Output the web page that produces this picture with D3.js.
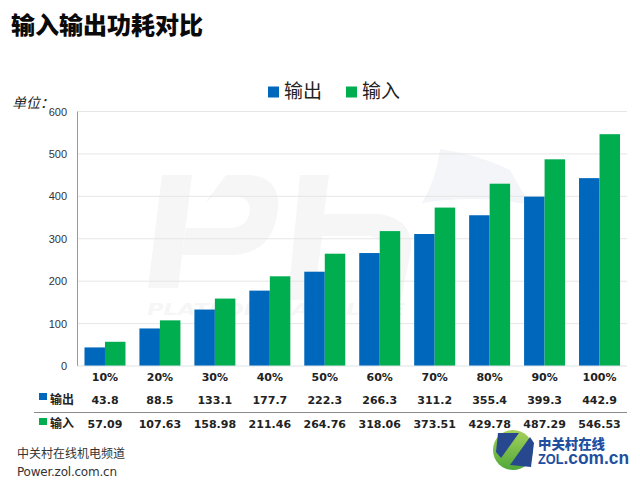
<!DOCTYPE html>
<html>
<head>
<meta charset="utf-8">
<script src="https://cdn.jsdelivr.net/npm/d3@7"></script>
<style>
  html, body { margin: 0; padding: 0; background: #fff; }
  svg { display: block; }
  text { font-family: "Noto Sans CJK SC", "DejaVu Sans", sans-serif; }
</style>
</head>
<body>
<div id="chart"></div>
<script>
const categories = ["10%", "20%", "30%", "40%", "50%", "60%", "70%", "80%", "90%", "100%"];
const outputValues = [43.8, 88.5, 133.1, 177.7, 222.3, 266.3, 311.2, 355.4, 399.3, 442.9];
const inputValues = [57.09, 107.63, 158.98, 211.46, 264.76, 318.06, 373.51, 429.78, 487.29, 546.53];
const seriesNames = ["输出", "输入"];
const seriesColors = ["#0068BC", "#00AE50"];
const yTicks = [0, 100, 200, 300, 400, 500, 600];

const W = 640, H = 480;
const plotL = 77.5, plotR = 627, plotT = 111.5, plotB = 366;

const svg = d3.select("#chart").append("svg").attr("width", W).attr("height", H);

const x = d3.scaleBand().domain(categories).range([plotL, plotR]);
const y = d3.scaleLinear().domain([0, 600]).range([plotB, plotT]);
const barW = 20.5;

// Watermark behind the plot
const wm = svg.append("g").attr("fill", "#f6f6f6");
wm.append("path").attr("d", "M162,175 L192,175 L178,288 L148,288 Z");
wm.append("path").attr("fill-rule", "evenodd")
  .attr("d", "M205,203 L226,175 L250,175 Q280,178 278,208 Q274,252 235,255 L182,255 L186,228 L232,228 Q250,226 250,208 Q248,197 236,197 L212,197 Z");
wm.append("path")
  .attr("d", "M300,175 L329,175 L324,214 L380,214 Q414,220 411,250 L401,300 L372,300 L382,250 Q382,238 370,236 L322,236 L314,300 L288,300 Z");
wm.append("path").attr("fill", "#f4f5f8")
  .attr("d", "M440,149 Q480,155 510,170 L530,205 Q480,194 422,203 Q436,180 440,149 Z");
wm.append("text").attr("x", 147).attr("y", 315)
  .attr("font-size", 16).attr("font-weight", 700).attr("font-style", "italic")
  .attr("textLength", 258).attr("lengthAdjust", "spacingAndGlyphs")
  .style("font-family", "'DejaVu Sans'")
  .text("PLATFORM ANALYZE");

// Gridlines
svg.append("g").selectAll("line").data(yTicks.filter(d => d > 0)).join("line")
  .attr("x1", plotL).attr("x2", plotR)
  .attr("y1", d => y(d)).attr("y2", d => y(d))
  .attr("stroke", "#e6e6e6").attr("stroke-width", 1);

// Bars
const groups = [outputValues, inputValues];
groups.forEach((vals, i) => {
  svg.append("g").selectAll("rect").data(vals).join("rect")
    .attr("x", (d, j) => x(categories[j]) + x.bandwidth() / 2 - barW + i * barW)
    .attr("width", barW)
    .attr("y", d => y(d))
    .attr("height", d => y(0) - y(d))
    .attr("fill", seriesColors[i]);
});

// Axis lines
svg.append("line").attr("x1", plotL).attr("x2", plotL).attr("y1", plotT).attr("y2", plotB)
  .attr("stroke", "#9a9a9a");
svg.append("line").attr("x1", plotL).attr("x2", plotR).attr("y1", plotB).attr("y2", plotB)
  .attr("stroke", "#dde3e8");

// Y tick labels
svg.append("g").selectAll("text").data(yTicks).join("text")
  .attr("x", 67).attr("y", d => y(d) + 4)
  .attr("text-anchor", "end").attr("font-size", 11).attr("fill", "#333")
  .style("font-family", "'Liberation Sans'")
  .text(d => d);

// Title
svg.append("text").attr("x", 11).attr("y", 34)
  .attr("font-size", 24).attr("font-weight", 900).attr("fill", "#0a0a0a")
  .text("输入输出功耗对比");

// Unit label
svg.append("text").attr("x", 12).attr("y", 108)
  .attr("font-size", 14).attr("font-style", "italic").attr("fill", "#222")
  .text("单位：");

// Legend
const legendX = [268, 346];
seriesNames.forEach((name, i) => {
  svg.append("rect").attr("x", legendX[i]).attr("y", 86.5).attr("width", 11).attr("height", 11)
    .attr("fill", seriesColors[i]);
  svg.append("text").attr("x", legendX[i] + 16).attr("y", 98)
    .attr("font-size", 19).attr("fill", "#222").text(name);
});

// Data table under the axis
const tableFont = "'DejaVu Sans'";
svg.append("g").selectAll("text").data(categories).join("text")
  .attr("x", d => x(d) + x.bandwidth() / 2).attr("y", 381)
  .attr("text-anchor", "middle").attr("font-size", 11).attr("font-weight", 700).attr("fill", "#222")
  .style("font-family", tableFont).text(d => d);

const rowY = [404, 428];
const swatchY = [393, 418];
groups.forEach((vals, i) => {
  svg.append("rect").attr("x", 39).attr("y", swatchY[i]).attr("width", 8).attr("height", 7)
    .attr("fill", seriesColors[i]);
  svg.append("text").attr("x", 50).attr("y", rowY[i])
    .attr("font-size", 12).attr("font-weight", 700).attr("fill", "#222").text(seriesNames[i]);
  svg.append("g").selectAll("text").data(vals).join("text")
    .attr("x", (d, j) => x(categories[j]) + x.bandwidth() / 2).attr("y", rowY[i])
    .attr("text-anchor", "middle").attr("font-size", 11).attr("font-weight", 700).attr("fill", "#222")
    .style("font-family", tableFont).text(d => d);
});

svg.append("line").attr("x1", 34).attr("x2", 627).attr("y1", 412.5).attr("y2", 412.5)
  .attr("stroke", "#8a8a8a").attr("stroke-width", 1);

// Footer
svg.append("text").attr("x", 17).attr("y", 458)
  .attr("font-size", 12).attr("fill", "#333").text("中关村在线机电频道");
svg.append("text").attr("x", 17).attr("y", 476)
  .attr("font-size", 12).attr("fill", "#333").attr("textLength", 100).style("font-family", "'DejaVu Sans'")
  .text("Power.zol.com.cn");

// ZOL logo
const grad = svg.append("defs").append("linearGradient").attr("id", "zGreen")
  .attr("x1", 0).attr("y1", 0).attr("x2", 0).attr("y2", 1);
grad.append("stop").attr("offset", 0).attr("stop-color", "#A6D15A");
grad.append("stop").attr("offset", 1).attr("stop-color", "#4FA83A");

const logo = svg.append("g");
logo.append("circle").attr("cx", 513).attr("cy", 450).attr("r", 20).attr("fill", "url(#zGreen)");
logo.append("path").attr("fill", "#27478F").attr("d", "M498,433 L519,433 L501,458 L496,452 Z");
logo.append("path").attr("fill", "#27478F").attr("d", "M530,437 L534,443 L531,467 L510,465 Z");
logo.append("text").attr("x", 538).attr("y", 449)
  .attr("font-size", 13.4).attr("font-weight", 900).attr("fill", "#1F4F9E").text("中关村在线");
const zolText = logo.append("text").attr("x", 538).attr("y", 464)
  .attr("font-weight", 700).attr("fill", "#1F4F9E")
  .attr("textLength", 91).attr("lengthAdjust", "spacingAndGlyphs")
  .style("font-family", "'Liberation Sans'");
zolText.append("tspan").attr("font-size", 14).text("ZOL");
zolText.append("tspan").attr("font-size", 19).text(".com.cn");
</script>
</body>
</html>
